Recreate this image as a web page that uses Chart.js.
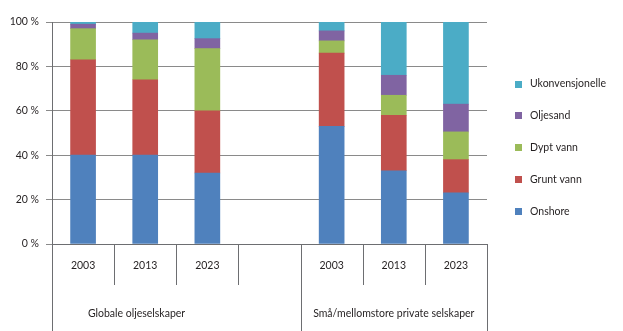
<!DOCTYPE html>
<html lang="no">
<head>
    <meta charset="UTF-8">
    <title>Ressurstyper</title>
    <script src="https://cdn.jsdelivr.net/npm/chart.js"></script>
    <style>
    body {
        margin: 0;
        padding: 0;
        background: #fff;
    }
    canvas {
        display: block;
    }
    </style>
</head>
<body>
    <canvas id="chart" width="623" height="331"></canvas>

    <script>
        // Data (share in %)
        const categories = ['2003', '2013', '2023', '', '2003', '2013', '2023'];
        const onshore = [40, 40, 32, null, 53, 33, 23];
        const gruntVann = [43, 34, 28, null, 33, 25, 15];
        const dyptVann = [14, 18, 28, null, 5.5, 9, 12.5];
        const oljesand = [2, 3, 4.5, null, 4.5, 9, 12.5];
        const ukonvensjonelle = [1, 5, 7.5, null, 4, 24, 37];
        const yTicks = [0, 20, 40, 60, 80, 100];
        const groups = ['Globale oljeselskaper', 'Små/mellomstore private selskaper'];
        const groupBounds = [[0, 4], [4, 7]];

        const font = { family: 'Lato, "Liberation Sans", sans-serif', size: 10.5 };
        const textColor = '#231f20';

        // custom two level x axis
        const xAxisPlugin = {
            id: 'xAxisLevels',
            afterDraw(chart) {
                const ctx = chart.ctx;
                const area = chart.chartArea;
                const slot = (area.right - area.left) / categories.length;
                const base = area.bottom;
                ctx.save();
                ctx.strokeStyle = '#6d6e71';
                ctx.lineWidth = 1;
                for (let i = 0; i <= categories.length; i++) {
                    const x = Math.round(area.left + i * slot) + 0.5;
                    const isGroup = groupBounds.some(b => b[0] === i || b[1] === i);
                    ctx.beginPath();
                    ctx.moveTo(x, base);
                    ctx.lineTo(x, isGroup ? chart.height : base + 41);
                    ctx.stroke();
                }
                ctx.fillStyle = textColor;
                ctx.font = font.size + 'px ' + font.family;
                ctx.textAlign = 'center';
                ctx.textBaseline = 'middle';
                categories.forEach((c, i) => {
                    if (c) ctx.fillText(c, chart.scales.x.getPixelForValue(i), base + 22);
                });
                // first group label sits a bit left of its span centre
                ctx.fillText(groups[0], area.left + slot * 1.36, base + 70);
                const g2 = (groupBounds[1][0] + groupBounds[1][1]) / 2;
                ctx.fillText(groups[1], area.left + slot * g2, base + 70);
                ctx.restore();
            }
        };

        // legend on the right
        const legendPlugin = {
            id: 'sideLegend',
            afterDraw(chart) {
                const ctx = chart.ctx;
                const sets = chart.data.datasets.slice().reverse();
                ctx.save();
                ctx.font = font.size + 'px ' + font.family;
                ctx.textBaseline = 'middle';
                ctx.textAlign = 'left';
                sets.forEach((ds, i) => {
                    const y = 84 + i * 31.8;
                    ctx.fillStyle = ds.backgroundColor;
                    ctx.fillRect(515, Math.round(y - 3.5), 7, 7);
                    ctx.fillStyle = textColor;
                    ctx.fillText(ds.label, 530, y);
                });
                ctx.restore();
            }
        };

        const ctx = document.getElementById('chart').getContext('2d');
        new Chart(ctx, {
            type: 'bar',
            data: {
                labels: categories,
                datasets: [
                    { label: 'Onshore', data: onshore, backgroundColor: '#4f81bd' },
                    { label: 'Grunt vann', data: gruntVann, backgroundColor: '#c0504d' },
                    { label: 'Dypt vann', data: dyptVann, backgroundColor: '#9bbb59' },
                    { label: 'Oljesand', data: oljesand, backgroundColor: '#8064a2' },
                    { label: 'Ukonvensjonelle', data: ukonvensjonelle, backgroundColor: '#4bacc6' }
                ]
            },
            options: {
                responsive: false,
                animation: false,
                devicePixelRatio: 1,
                layout: { padding: { top: 22, right: 136, left: 0, bottom: 0 } },
                plugins: {
                    legend: { display: false },
                    tooltip: { enabled: false }
                },
                datasets: {
                    bar: { barThickness: 25, borderWidth: 0 }
                },
                scales: {
                    x: {
                        stacked: true,
                        ticks: { display: false },
                        grid: { display: false },
                        border: { color: '#6d6e71' },
                        afterFit(s) { s.height = 87; }
                    },
                    y: {
                        stacked: true,
                        min: 0,
                        max: 100,
                        afterBuildTicks(s) { s.ticks = yTicks.map(v => ({ value: v })); },
                        afterFit(s) { s.width = 52; },
                        ticks: {
                            padding: 7,
                            color: textColor,
                            font: font,
                            callback: v => v + ' %'
                        },
                        grid: { color: '#8a8a8a', tickLength: 6 },
                        border: { color: '#6d6e71' }
                    }
                }
            },
            plugins: [xAxisPlugin, legendPlugin]
        });
    </script>
</body>
</html>
